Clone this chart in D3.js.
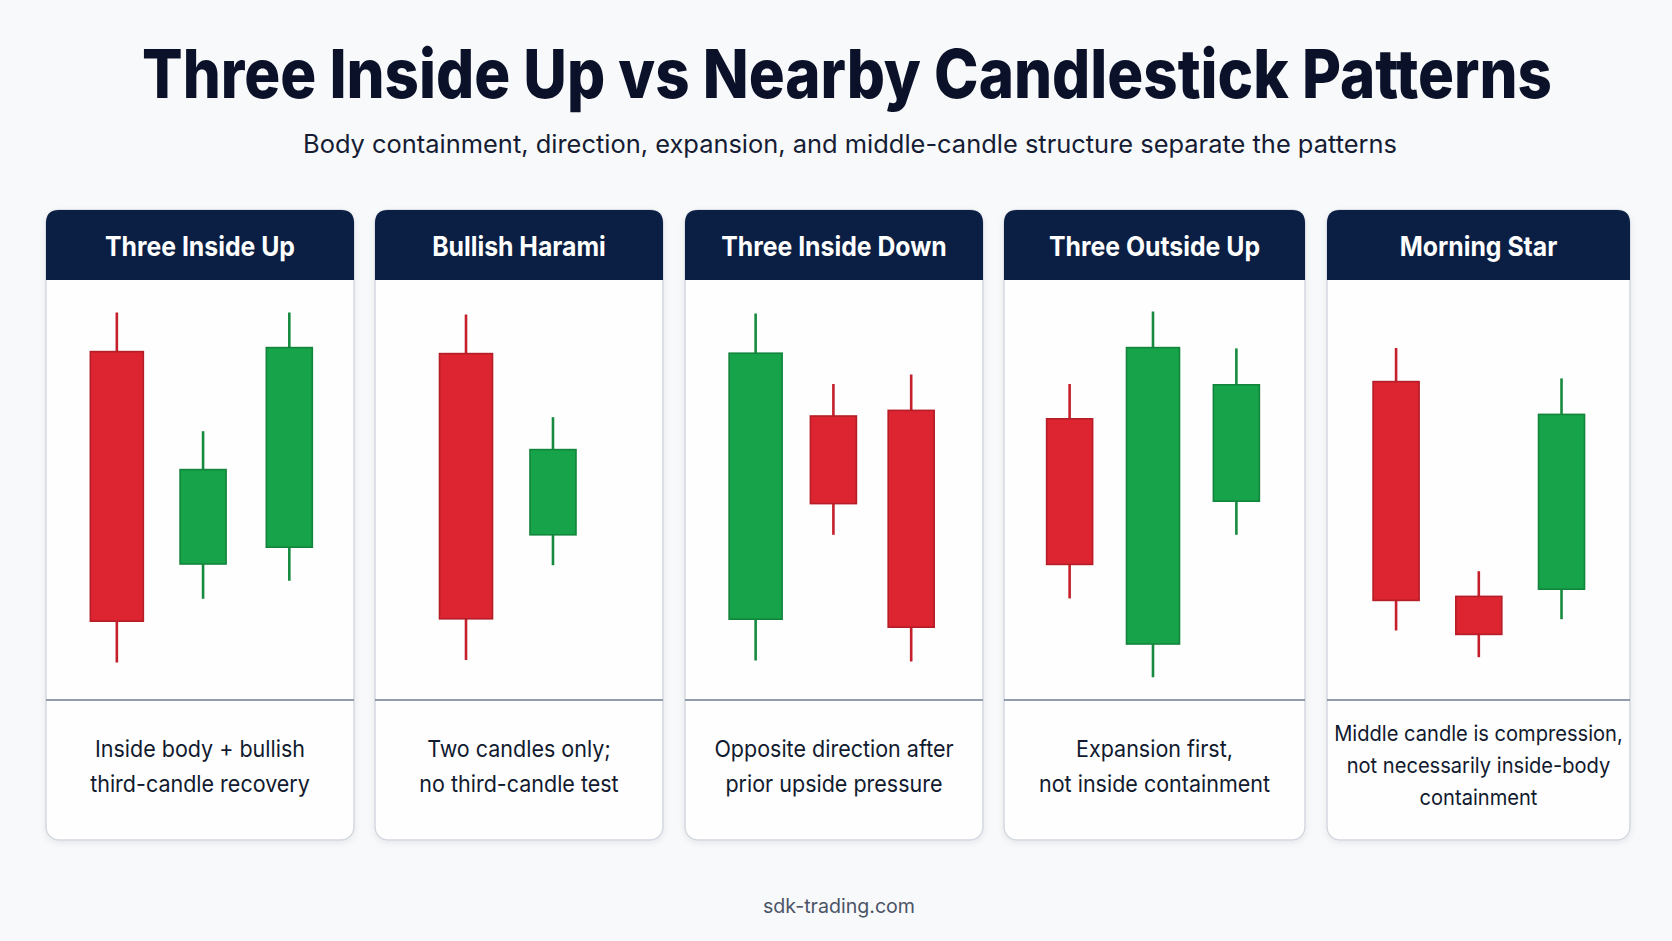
<!DOCTYPE html>
<html><head><meta charset="utf-8">
<script src="https://cdn.jsdelivr.net/npm/d3@7"></script>
<style>
html,body{margin:0;padding:0;background:#f8f9fb;}
svg{display:block;}
text{font-family:Inter,"Open Sans",sans-serif;}
</style></head>
<body>
<svg id="c" width="1672" height="941"></svg>
<script>
// ---------- data ----------
const title = "Three Inside Up vs Nearby Candlestick Patterns";
const subtitle = "Body containment, direction, expansion, and middle-candle structure separate the patterns";
const footer = "sdk-trading.com";
const categories = ["Three Inside Up", "Bullish Harami", "Three Inside Down", "Three Outside Up", "Morning Star"];
const captions = [
  ["Inside body + bullish", "third-candle recovery"],
  ["Two candles only;", "no third-candle test"],
  ["Opposite direction after", "prior upside pressure"],
  ["Expansion first,", "not inside containment"],
  ["Middle candle is compression,", "not necessarily inside-body", "containment"]
];
// OHLC per pattern (relative price units, 0-100)
const opens  = [[87.1, 34.0, 38.2], [86.6, 41.3], [20.2, 71.0, 72.4], [70.3, 14.0, 49.7], [79.6, 25.9, 27.7]];
const highs  = [[96.9, 67.2, 96.9], [96.4, 70.7], [96.6, 79.0, 81.4], [79.0, 97.1, 87.9], [88.0, 32.2, 80.4]];
const lows   = [[9.4, 25.3, 29.8],  [10.0, 33.7], [9.9, 41.3, 9.6],   [25.4, 5.7, 41.3],  [17.4, 10.7, 20.2]];
const closes = [[19.7, 57.6, 88.1], [20.3, 62.6], [86.7, 49.1, 18.2], [33.9, 88.1, 78.8], [24.9, 16.4, 71.4]];

// ---------- layout ----------
const panelLefts  = [46, 375, 685, 1004, 1327];
const panelWidths = [308, 288, 298, 301, 303];
const candleSpans = [[0.23, 0.79], [0.316, 0.618], [0.237, 0.759], [0.218, 0.772], [0.228, 0.774]];
const panelTop = 210, headerH = 70, dividerY = 700, panelBottom = 840;
const C = {
  navy: "#0b1f44", title: "#0b1129", text: "#111a2e",
  redFill: "#dc2531", redStroke: "#b51d27", redWick: "#c41f2a",
  greenFill: "#17a34a", greenStroke: "#13843c", greenWick: "#168a3f"
};

const svg = d3.select("#c");
const defs = svg.append("defs");
const f = defs.append("filter").attr("id","sh").attr("x","-10%").attr("y","-10%").attr("width","120%").attr("height","120%");
f.append("feDropShadow").attr("dx",0).attr("dy",2).attr("stdDeviation",3).attr("flood-color","#0b1f44").attr("flood-opacity",0.08);

function squeeze(sel, target) {
  const n = sel.node().getComputedTextLength();
  return target / n;
}
function applyK(sel, k) {
  const n = sel.node().getComputedTextLength();
  sel.attr("textLength", n * k).attr("lengthAdjust", "spacingAndGlyphs");
}

// title (horizontally condensed via transform)
const tg = svg.append("g");
const t = tg.append("text").attr("x", 0).attr("y", 0).attr("text-anchor","middle")
  .attr("font-size", 68).attr("font-weight", 800).attr("fill", C.title).text(title);
const tk = squeeze(t, 1410);
tg.attr("transform", `translate(847,98) scale(${tk},1)`);

const st = svg.append("text").attr("x", 850).attr("y", 153).attr("text-anchor","middle")
  .attr("font-size", 25).attr("font-weight", 400).attr("fill", "#151c33").text(subtitle);
applyK(st, squeeze(st, 1094));

const y = d3.scaleLinear().domain([0, 100]).range([700, 300]);

let headerK = null, capK = null;

categories.forEach((name, i) => {
  const x0 = panelLefts[i], w = panelWidths[i];
  const g = svg.append("g");
  g.append("rect").attr("x", x0).attr("y", panelTop).attr("width", w).attr("height", panelBottom - panelTop)
    .attr("rx", 13).attr("fill", "#fefefe").attr("stroke", "#d3d8df").attr("stroke-width", 1.5).attr("filter","url(#sh)");
  const r = 13;
  g.append("path").attr("d",
    `M${x0},${panelTop + headerH} L${x0},${panelTop + r} Q${x0},${panelTop} ${x0 + r},${panelTop} L${x0 + w - r},${panelTop} Q${x0 + w},${panelTop} ${x0 + w},${panelTop + r} L${x0 + w},${panelTop + headerH} Z`)
    .attr("fill", C.navy);
  const ht = g.append("text").attr("x", x0 + w / 2).attr("y", 256).attr("text-anchor","middle")
    .attr("font-size", 27).attr("font-weight", 700).attr("fill", "#ffffff").text(name);
  if (headerK === null) headerK = squeeze(ht, 190);
  applyK(ht, headerK);

  g.append("line").attr("x1", x0).attr("x2", x0 + w).attr("y1", dividerY).attr("y2", dividerY)
    .attr("stroke", "#6f7d92").attr("stroke-width", 1.6);

  const n = opens[i].length;
  const span = candleSpans[i];
  const x = d3.scalePoint().domain(d3.range(n)).range([x0 + w * span[0], x0 + w * span[1]]);
  const candles = d3.range(n).map(j => ({
    j, o: opens[i][j], h: highs[i][j], l: lows[i][j], c: closes[i][j]
  }));
  const cg = g.selectAll("g.candle").data(candles).join("g").attr("class","candle");
  cg.append("line")
    .attr("x1", d => x(d.j)).attr("x2", d => x(d.j))
    .attr("y1", d => y(d.h)).attr("y2", d => y(d.l))
    .attr("stroke", d => d.c >= d.o ? C.greenWick : C.redWick).attr("stroke-width", 2.6);
  cg.append("rect")
    .attr("x", d => x(d.j) - ((d.h - d.l) > 85 ? 26.5 : 23))
    .attr("width", d => (d.h - d.l) > 85 ? 53 : 46)
    .attr("y", d => y(Math.max(d.o, d.c)))
    .attr("height", d => y(Math.min(d.o, d.c)) - y(Math.max(d.o, d.c)))
    .attr("fill", d => d.c >= d.o ? C.greenFill : C.redFill)
    .attr("stroke", d => d.c >= d.o ? C.greenStroke : C.redStroke).attr("stroke-width", 1.6);

  const lines = captions[i];
  const three = lines.length === 3;
  const base = three ? [741, 773, 805] : [757, 792];
  const texts = lines.map((ln, k) => g.append("text").attr("x", x0 + w / 2).attr("y", base[k]).attr("text-anchor","middle")
      .attr("font-size", three ? 21.5 : 23).attr("font-weight", 400).attr("fill", C.text).text(ln));
  if (capK === null) capK = squeeze(texts[1], 219.7);
  texts.forEach(tx => applyK(tx, capK));
});

const ft = svg.append("text").attr("x", 839).attr("y", 913).attr("text-anchor","middle")
  .attr("font-size", 20).attr("fill", "#4b5466").text(footer);
applyK(ft, squeeze(ft, 152));
</script>
</body></html>
